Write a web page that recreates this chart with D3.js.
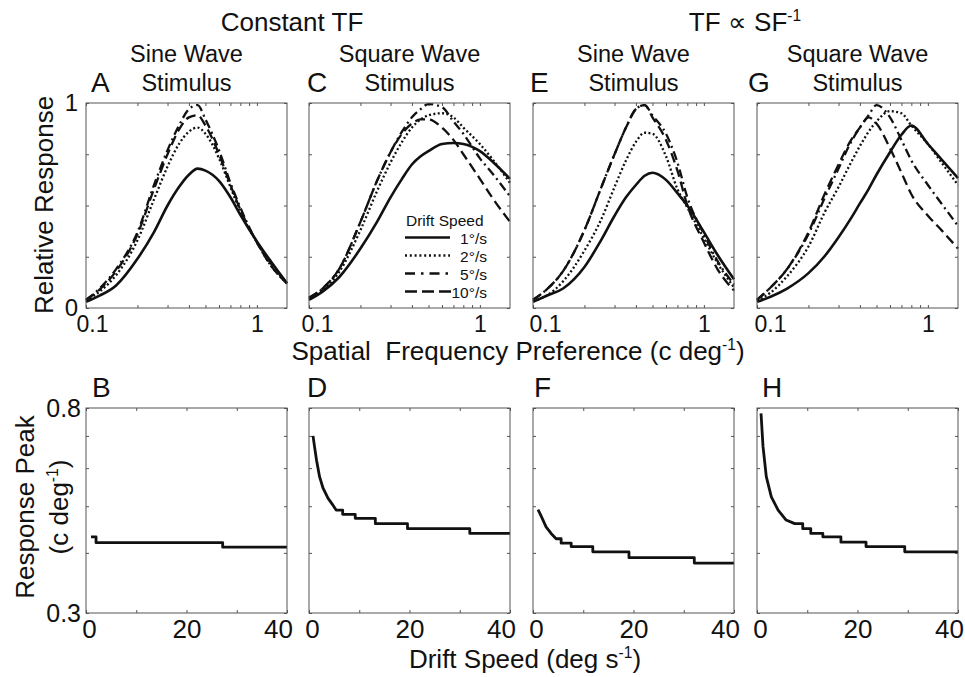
<!DOCTYPE html>
<html lang="en">
<head>
<meta charset="UTF-8">
<title>Spatial frequency preference vs drift speed</title>
<script src="https://cdn.jsdelivr.net/npm/d3@7/dist/d3.min.js"></script>
<style>
    body { margin: 0; background: #fff; }
    svg text { font-family: "Liberation Sans", Arial, Helvetica, sans-serif; fill: #111; }
    .frame { fill: none; stroke: #555; stroke-width: 1; }
    .tick line { stroke: #555; }
</style>
</head>
<body>
<script>
// ---- data ----
var speedNames = ["1°/s", "2°/s", "5°/s", "10°/s"];
var sf = [0.1, 0.12, 0.15, 0.2, 0.25, 0.3, 0.35, 0.4, 0.45, 0.5, 0.6, 0.7, 0.8, 1.0, 1.2, 1.5];
var sfTicks = [0.1, 0.2, 0.3, 0.4, 0.5, 0.6, 0.7, 0.8, 0.9, 1];
var respTicks = [0, 0.25, 0.5, 0.75, 1];
var driftTicks = [0, 10, 20, 30, 40];
var peakTicks = [0.3, 0.4, 0.5, 0.6, 0.7, 0.8];

// A: constant TF, sine wave
var respA1  = [0.03, 0.06, 0.11, 0.24, 0.37, 0.50, 0.59, 0.65, 0.68, 0.67, 0.62, 0.54, 0.455, 0.325, 0.23, 0.12];
var respA2  = [0.035, 0.08, 0.16, 0.33, 0.53, 0.69, 0.80, 0.86, 0.88, 0.85, 0.73, 0.59, 0.47, 0.32, 0.21, 0.12];
var respA5  = [0.04, 0.095, 0.19, 0.37, 0.60, 0.77, 0.89, 0.97, 0.99, 0.92, 0.77, 0.61, 0.49, 0.32, 0.22, 0.12];
var respA10 = [0.04, 0.09, 0.18, 0.36, 0.58, 0.75, 0.87, 0.93, 0.94, 0.89, 0.75, 0.60, 0.48, 0.32, 0.21, 0.12];
// C: constant TF, square wave
var respC1  = [0.04, 0.08, 0.15, 0.29, 0.42, 0.54, 0.63, 0.70, 0.74, 0.765, 0.80, 0.805, 0.80, 0.765, 0.71, 0.63];
var respC2  = [0.045, 0.085, 0.175, 0.38, 0.57, 0.71, 0.81, 0.88, 0.92, 0.94, 0.95, 0.93, 0.88, 0.80, 0.72, 0.61];
var respC5  = [0.05, 0.095, 0.19, 0.42, 0.62, 0.76, 0.86, 0.93, 0.97, 0.995, 0.98, 0.91, 0.85, 0.73, 0.65, 0.545];
var respC10 = [0.05, 0.095, 0.19, 0.42, 0.62, 0.76, 0.85, 0.90, 0.92, 0.92, 0.88, 0.82, 0.75, 0.63, 0.53, 0.42];
// E: TF ~ 1/SF, sine wave
var respE1  = [0.03, 0.06, 0.095, 0.20, 0.33, 0.45, 0.54, 0.60, 0.645, 0.66, 0.625, 0.56, 0.50, 0.37, 0.26, 0.14];
var respE2  = [0.035, 0.06, 0.13, 0.28, 0.43, 0.59, 0.72, 0.81, 0.855, 0.85, 0.74, 0.58, 0.49, 0.34, 0.22, 0.10];
var respE5  = [0.04, 0.09, 0.18, 0.38, 0.585, 0.75, 0.88, 0.97, 0.99, 0.94, 0.85, 0.71, 0.54, 0.36, 0.23, 0.115];
var respE10 = [0.04, 0.09, 0.18, 0.38, 0.585, 0.75, 0.88, 0.97, 0.99, 0.93, 0.82, 0.67, 0.50, 0.32, 0.19, 0.085];
// G: TF ~ 1/SF, square wave
var respG1  = [0.03, 0.055, 0.095, 0.17, 0.255, 0.345, 0.43, 0.51, 0.58, 0.65, 0.76, 0.845, 0.89, 0.80, 0.725, 0.634];
var respG2  = [0.035, 0.075, 0.155, 0.30, 0.47, 0.59, 0.70, 0.79, 0.86, 0.91, 0.96, 0.95, 0.89, 0.80, 0.71, 0.60];
var respG5  = [0.04, 0.10, 0.19, 0.36, 0.54, 0.68, 0.80, 0.88, 0.94, 0.99, 0.93, 0.82, 0.72, 0.60, 0.51, 0.40];
var respG10 = [0.04, 0.10, 0.19, 0.37, 0.56, 0.70, 0.81, 0.88, 0.93, 0.90, 0.78, 0.66, 0.555, 0.45, 0.38, 0.29];

// response peak vs drift speed (steps are repeated speeds)
var driftB = [1, 2, 2, 27.2, 27.2, 40];
var peakB  = [0.432, 0.432, 0.420, 0.420, 0.411, 0.411];
var driftD = [0.8, 1.1, 1.5, 2.1, 2.8, 3.8, 4.8, 5.4, 6.7, 6.7, 9.2, 9.2, 13.2, 13.2, 19.6, 19.6, 32, 32, 40];
var peakD  = [0.70, 0.665, 0.623, 0.576, 0.545, 0.519, 0.502, 0.491, 0.491, 0.481, 0.481, 0.472, 0.472, 0.460, 0.460, 0.449, 0.449, 0.439, 0.439];
var driftF = [1, 1.7, 2.6, 3.6, 4.6, 5.6, 5.6, 7.6, 7.6, 11.9, 11.9, 19.1, 19.1, 32.1, 32.1, 40];
var peakF  = [0.492, 0.475, 0.453, 0.439, 0.428, 0.428, 0.419, 0.419, 0.412, 0.412, 0.402, 0.402, 0.391, 0.391, 0.381, 0.381];
var driftH = [0.8, 1.2, 1.85, 2.85, 4.2, 5.8, 7.5, 9.1, 9.1, 10.7, 10.7, 13.1, 13.1, 16.7, 16.7, 21.7, 21.7, 29.4, 29.4, 40];
var peakH  = [0.78, 0.665, 0.576, 0.523, 0.491, 0.468, 0.460, 0.460, 0.449, 0.449, 0.439, 0.439, 0.432, 0.432, 0.421, 0.421, 0.412, 0.412, 0.402, 0.402];

var topRow = [
    {letter: "A", title: ["Sine Wave", "Stimulus"], resp: [respA1, respA2, respA5, respA10]},
    {letter: "C", title: ["Square Wave", "Stimulus"], resp: [respC1, respC2, respC5, respC10]},
    {letter: "E", title: ["Sine Wave", "Stimulus"], resp: [respE1, respE2, respE5, respE10]},
    {letter: "G", title: ["Square Wave", "Stimulus"], resp: [respG1, respG2, respG5, respG10]}
];
var bottomRow = [
    {letter: "B", drift: driftB, peak: peakB},
    {letter: "D", drift: driftD, peak: peakD},
    {letter: "F", drift: driftF, peak: peakF},
    {letter: "H", drift: driftH, peak: peakH}
];

// ---- layout ----
var lefts = [86, 309, 533, 757];
var pw = 201, ph = 205, topY = 103, botY = 408;
var letterX = [91, 307, 530, 748];
var botLetterX = [92, 307, 534, 762];
var sfLabelShift = [6, 8, 12, 13];
var dashes = [null, "2,2.4", "9,4,2,4", "10,5"];
var legendDashes = [null, "2,2.8", "10,6,2.5,6", "12,5"];

var svg = d3.select("body").append("svg")
    .attr("width", 965).attr("height", 677);

function cleanAxis(g) {
    g.select(".domain").remove();
}

// superscript helper
function addSup(t, base, sup, tail, fs) {
    t.append("tspan").text(base);
    t.append("tspan").text(sup).attr("font-size", fs * 0.6).attr("dy", -fs * 0.38);
    t.append("tspan").text(tail).attr("font-size", fs).attr("dy", fs * 0.38);
}

// ---- top row ----
topRow.forEach(function(p, k) {
    var g = svg.append("g").attr("transform", "translate(" + lefts[k] + "," + topY + ")");
    var x = d3.scaleLog().domain([0.1, 1.5]).range([0, pw]);
    var y = d3.scaleLinear().domain([0, 1]).range([ph, 0]);

    g.append("g").attr("transform", "translate(0," + ph + ")")
        .call(d3.axisBottom(x).tickValues(sfTicks).tickSizeInner(-3).tickSizeOuter(0).tickPadding(8)
            .tickFormat(function(d) { return d === 0.1 ? "0.1" : (d === 1 ? "1" : ""); }))
        .call(cleanAxis)
        .selectAll("text").attr("font-size", 23)
        .attr("dx", function(d) { return d === 0.1 ? sfLabelShift[k] : 0; });
    g.append("g")
        .call(d3.axisTop(x).tickValues(sfTicks).tickSizeInner(-3).tickSizeOuter(0).tickFormat(""))
        .call(cleanAxis);
    g.append("g")
        .call(d3.axisLeft(y).tickValues(respTicks).tickSizeInner(-3).tickSizeOuter(0).tickPadding(8)
            .tickFormat(function(d) { return k === 0 && (d === 0 || d === 1) ? d : ""; }))
        .call(cleanAxis)
        .selectAll("text").attr("font-size", 24);
    g.append("g").attr("transform", "translate(" + pw + ",0)")
        .call(d3.axisRight(y).tickValues(respTicks).tickSizeInner(-3).tickSizeOuter(0).tickFormat(""))
        .call(cleanAxis);

    var line = d3.line()
        .x(function(d, i) { return x(sf[i]); })
        .y(function(d) { return y(d); })
        .curve(d3.curveMonotoneX);

    p.resp.forEach(function(r, s) {
        g.append("path")
            .attr("d", line(r))
            .attr("fill", "none")
            .attr("stroke", "#111")
            .attr("stroke-width", s === 0 ? 2.6 : 2.3)
            .attr("stroke-dasharray", dashes[s]);
    });

    g.append("rect").attr("class", "frame").attr("width", pw).attr("height", ph);

    svg.append("text").attr("x", letterX[k]).attr("y", 92)
        .attr("font-size", 28).text(p.letter);
    svg.append("text").attr("x", lefts[k] + pw / 2).attr("y", 62)
        .attr("text-anchor", "middle").attr("font-size", 23.5).text(p.title[0]);
    svg.append("text").attr("x", lefts[k] + pw / 2).attr("y", 91)
        .attr("text-anchor", "middle").attr("font-size", 23.5).text(p.title[1]);

    // legend in panel C
    if (k === 1) {
        var lg = g.append("g");
        lg.append("text").attr("x", 97).attr("y", 123).attr("font-size", 15.5).text("Drift Speed");
        speedNames.forEach(function(nm, s) {
            var by = 141 + s * 18;
            lg.append("line").attr("x1", 96).attr("x2", s === 3 ? 143 : 141)
                .attr("y1", by - 6.5).attr("y2", by - 6.5)
                .attr("stroke", "#111").attr("stroke-width", 2.3)
                .attr("stroke-dasharray", legendDashes[s]);
            lg.append("text").attr("x", 178).attr("y", by).attr("text-anchor", "end")
                .attr("font-size", 15.5).text(nm);
        });
    }
});

// ---- bottom row ----
bottomRow.forEach(function(p, k) {
    var g = svg.append("g").attr("transform", "translate(" + lefts[k] + "," + botY + ")");
    var x = d3.scaleLinear().domain([0, 40]).range([0, pw]);
    var y = d3.scaleLog().domain([0.3, 0.8]).range([ph, 0]);

    g.append("g").attr("transform", "translate(0," + ph + ")")
        .call(d3.axisBottom(x).tickValues(driftTicks).tickSizeInner(-3).tickSizeOuter(0).tickPadding(7)
            .tickFormat(function(d) { return d % 20 === 0 ? d : ""; }))
        .call(cleanAxis)
        .selectAll("text").attr("font-size", 26)
        .attr("dx", function(d) { return d === 0 ? 3 : (d === 40 ? -9 : 0); });
    g.append("g")
        .call(d3.axisTop(x).tickValues(driftTicks).tickSizeInner(-3).tickSizeOuter(0).tickFormat(""))
        .call(cleanAxis);
    g.append("g")
        .call(d3.axisLeft(y).tickValues(peakTicks).tickSizeInner(-3).tickSizeOuter(0).tickPadding(5)
            .tickFormat(function(d) { return k === 0 && (d === 0.3 || d === 0.8) ? d : ""; }))
        .call(cleanAxis)
        .selectAll("text").attr("font-size", 25);
    g.append("g").attr("transform", "translate(" + pw + ",0)")
        .call(d3.axisRight(y).tickValues(peakTicks).tickSizeInner(-3).tickSizeOuter(0).tickFormat(""))
        .call(cleanAxis);

    var line = d3.line()
        .x(function(d, i) { return x(p.drift[i]); })
        .y(function(d) { return y(d); });

    g.append("path")
        .attr("d", line(p.peak))
        .attr("fill", "none")
        .attr("stroke", "#111")
        .attr("stroke-width", 2.8)
        .attr("stroke-linejoin", "round");

    g.append("rect").attr("class", "frame").attr("width", pw).attr("height", ph);

    svg.append("text").attr("x", botLetterX[k]).attr("y", 397)
        .attr("font-size", 28).text(p.letter);
});

// ---- headers and axis titles ----
svg.append("text").attr("x", 292).attr("y", 31).attr("text-anchor", "middle")
    .attr("font-size", 26).text("Constant TF");
var tf = svg.append("text").attr("x", 745).attr("y", 31).attr("text-anchor", "middle")
    .attr("font-size", 26);
addSup(tf, "TF \u221D SF", "-1", "", 26);

svg.append("text").attr("transform", "translate(53,205) rotate(-90)")
    .attr("text-anchor", "middle").attr("font-size", 26).text("Relative Response");

var sfl = svg.append("text").attr("x", 518).attr("y", 360).attr("text-anchor", "middle")
    .attr("font-size", 26).style("white-space", "pre");
addSup(sfl, "Spatial  Frequency Preference (c deg", "-1", ")", 26);

svg.append("text").attr("transform", "translate(34,507) rotate(-90)")
    .attr("text-anchor", "middle").attr("font-size", 26).text("Response Peak");
var rp = svg.append("text").attr("transform", "translate(68,507) rotate(-90)")
    .attr("text-anchor", "middle").attr("font-size", 26);
addSup(rp, "(c deg", "-1", ")", 26);

var dsl = svg.append("text").attr("x", 525).attr("y", 668).attr("text-anchor", "middle")
    .attr("font-size", 26);
addSup(dsl, "Drift Speed (deg s", "-1", ")", 26);
</script>
</body>
</html>
